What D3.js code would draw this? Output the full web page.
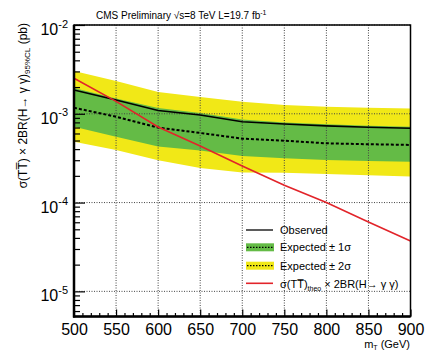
<!DOCTYPE html>
<html>
<head>
<meta charset="utf-8">
<script src="https://cdn.jsdelivr.net/npm/d3@7"></script>
<style>
  body { margin: 0; background: #fff; }
  svg { display: block; font-family: "Liberation Sans", Arial, Helvetica, sans-serif; }
</style>
</head>
<body>
<div id="main"></div>
<script>
// mass points (GeV)
const masses = [500, 550, 600, 650, 700, 750, 800, 850, 900];
// 95% CL limits (pb)
const observed = [1.85e-3, 1.43e-3, 1.09e-3, 9.7e-4, 8.15e-4, 7.67e-4, 7.3e-4, 7.05e-4, 6.87e-4];
const expected = [1.17e-3, 9.27e-4, 7.0e-4, 6.08e-4, 5.25e-4, 4.98e-4, 4.65e-4, 4.54e-4, 4.46e-4];
const plus1 = [1.95e-3, 1.49e-3, 1.16e-3, 1.02e-3, 8.6e-4, 8.0e-4, 7.6e-4, 7.35e-4, 7.15e-4];
const minus1 = [7.16e-4, 5.52e-4, 4.28e-4, 3.86e-4, 3.35e-4, 3.15e-4, 3.02e-4, 2.94e-4, 2.89e-4];
const plus2 = [3.03e-3, 2.34e-3, 1.76e-3, 1.55e-3, 1.37e-3, 1.26e-3, 1.2e-3, 1.17e-3, 1.15e-3];
const minus2 = [4.85e-4, 3.9e-4, 2.99e-4, 2.45e-4, 2.18e-4, 2.17e-4, 2.1e-4, 2.03e-4, 1.96e-4];
const theory = [2.51e-3, 1.38e-3, 7.1e-4, 4.33e-4, 2.58e-4, 1.57e-4, 1.0e-4, 6.05e-5, 3.7e-5];

const xMajor = [500, 550, 600, 650, 700, 750, 800, 850, 900];
const yDecades = [1e-5, 1e-4, 1e-3, 1e-2];
const yExponents = ["-5", "-4", "-3", "-2"];

const width = 426, height = 351;
const plotLeft = 74, plotRight = 410.5, plotTop = 25, plotBottom = 316.5;

const green = "#64bb46";
const yellow = "#f1e817";
const red = "#e2242a";

const svg = d3.select("#main").append("svg")
    .attr("width", width)
    .attr("height", height);

svg.append("rect").attr("width", width).attr("height", height).attr("fill", "#fff");

const x = d3.scaleLinear().domain([500, 900]).range([plotLeft, plotRight]);
const y = d3.scaleLog().domain([5.21e-6, 1e-2]).range([plotBottom, plotTop]);

const rows = masses.map((m, i) => ({
    m: m, obs: observed[i], exp: expected[i],
    p1: plus1[i], m1: minus1[i], p2: plus2[i], m2: minus2[i], th: theory[i]
}));

const band = (lo, hi) => d3.area()
    .x(d => x(d.m))
    .y0(d => y(d[lo]))
    .y1(d => y(d[hi]));

svg.append("path").datum(rows).attr("d", band("m2", "p2")).attr("fill", yellow);
svg.append("path").datum(rows).attr("d", band("m1", "p1")).attr("fill", green);

// grid
const grid = svg.append("g")
    .attr("stroke", "#444")
    .attr("stroke-width", 1)
    .attr("stroke-dasharray", "1,1.5");
grid.selectAll("line.vx")
    .data(xMajor.slice(1, -1))
    .enter().append("line")
    .attr("x1", d => x(d)).attr("x2", d => x(d))
    .attr("y1", plotTop).attr("y2", plotBottom);
grid.selectAll("line.hy")
    .data(yDecades)
    .enter().append("line")
    .attr("x1", plotLeft).attr("x2", plotRight)
    .attr("y1", d => y(d)).attr("y2", d => y(d));

const lineOf = key => d3.line().x(d => x(d.m)).y(d => y(d[key]));

svg.append("path").datum(rows).attr("d", lineOf("exp"))
    .attr("fill", "none").attr("stroke", "#000")
    .attr("stroke-width", 2).attr("stroke-dasharray", "3,2");
svg.append("path").datum(rows).attr("d", lineOf("obs"))
    .attr("fill", "none").attr("stroke", "#000").attr("stroke-width", 1.6);
svg.append("path").datum(rows).attr("d", lineOf("th"))
    .attr("fill", "none").attr("stroke", red).attr("stroke-width", 1.6);

// axes
const yMinor = [];
for (let e = -6; e <= -3; e++) {
    for (let k = 2; k <= 9; k++) {
        const v = k * Math.pow(10, e);
        if (v >= 5.21e-6 && v <= 1e-2) yMinor.push(v);
    }
}
const xMinor = d3.range(500, 901, 10).filter(v => v % 50 !== 0);

svg.append("g")
    .attr("transform", `translate(${plotLeft},0)`)
    .call(d3.axisLeft(y).tickValues(yMinor).tickSize(-6).tickFormat(""))
    .call(g => g.select(".domain").remove());

const yAxis = svg.append("g")
    .attr("transform", `translate(${plotLeft},0)`)
    .call(d3.axisLeft(y).tickValues(yDecades).tickSize(-11).tickPadding(6).tickFormat(""))
    .call(g => g.select(".domain").remove());
yAxis.selectAll(".tick text")
    .attr("dy", null)
    .attr("y", 9.5)
    .attr("fill", "#000")
    .style("font-size", "16px")
    .each(function(d, i) {
        const t = d3.select(this);
        t.append("tspan").text("10");
        t.append("tspan").attr("dy", -7.5).style("font-size", "11px").text(yExponents[i]);
    });

svg.append("g")
    .attr("transform", `translate(0,${plotBottom})`)
    .call(d3.axisBottom(x).tickValues(xMinor).tickSize(-3.5).tickFormat(""))
    .call(g => g.select(".domain").remove());

svg.append("g")
    .attr("transform", `translate(0,${plotBottom})`)
    .call(d3.axisBottom(x).tickValues(xMajor).tickSize(-7).tickFormat(d3.format("d")))
    .call(g => g.select(".domain").remove())
    .call(g => g.selectAll(".tick text")
        .attr("dy", null).attr("y", 18.5)
        .attr("fill", "#000")
        .style("font-size", "16px"));

svg.selectAll(".tick line").attr("stroke", "#000").attr("stroke-width", 1.2);

// frame
svg.append("rect")
    .attr("x", plotLeft).attr("y", plotTop)
    .attr("width", plotRight - plotLeft).attr("height", plotBottom - plotTop)
    .attr("fill", "none").attr("stroke", "#000").attr("stroke-width", 1.5);
svg.append("line").attr("x1", plotLeft).attr("x2", plotLeft).attr("y1", plotTop).attr("y2", plotBottom + 1)
    .attr("stroke", "#000").attr("stroke-width", 2.5);
svg.append("line").attr("x1", plotLeft - 1).attr("x2", plotRight).attr("y1", plotBottom).attr("y2", plotBottom)
    .attr("stroke", "#000").attr("stroke-width", 2.5);

// titles
const title = svg.append("text")
    .attr("x", 96).attr("y", 19)
    .style("font-size", "10px");
title.append("tspan").text("CMS Preliminary \u221As=8 TeV L=19.7 fb");
title.append("tspan").attr("dy", -4).style("font-size", "7px").text("-1");

const xTitle = svg.append("text")
    .attr("x", 410).attr("y", 348)
    .attr("text-anchor", "end")
    .style("font-size", "11px");
xTitle.append("tspan").text("m");
xTitle.append("tspan").attr("dy", 2).style("font-size", "7px").text("T");
xTitle.append("tspan").attr("dy", -2).text(" (GeV)");

const yTitle = svg.append("text")
    .attr("transform", "translate(27,23) rotate(-90)")
    .attr("text-anchor", "end")
    .style("font-size", "12px");
yTitle.append("tspan").text("\u03C3(TT\u0305) \u00D7 2BR(H\u2192 \u03B3 \u03B3)");
yTitle.append("tspan").attr("dy", 3).style("font-size", "8px").text("95%CL");
yTitle.append("tspan").attr("dy", -3).text(" (pb)");

// legend
const legend = svg.append("g").style("font-size", "11px");
legend.append("line")
    .attr("x1", 246).attr("x2", 273).attr("y1", 230).attr("y2", 230)
    .attr("stroke", "#333").attr("stroke-width", 1.6);
legend.append("text").attr("x", 280).attr("y", 234).text("Observed");

[[green, 243.3, "Expected \u00B1 1\u03C3"], [yellow, 261.7, "Expected \u00B1 2\u03C3"]].forEach(e => {
    legend.append("rect")
        .attr("x", 246).attr("y", e[1]).attr("width", 28).attr("height", 8)
        .attr("fill", e[0]);
    legend.append("line")
        .attr("x1", 247).attr("x2", 273).attr("y1", e[1] + 4).attr("y2", e[1] + 4)
        .attr("stroke", "#000").attr("stroke-width", 1.2).attr("stroke-dasharray", "1.5,1.5");
    legend.append("text").attr("x", 280).attr("y", e[1] + 8).text(e[2]);
});

legend.append("line")
    .attr("x1", 246).attr("x2", 273).attr("y1", 283.3).attr("y2", 283.3)
    .attr("stroke", red).attr("stroke-width", 1.6);
const thText = legend.append("text").attr("x", 280).attr("y", 287.5);
thText.append("tspan").text("\u03C3(TT\u0305)");
thText.append("tspan").attr("dy", 3).style("font-size", "7px").text("theo");
thText.append("tspan").attr("dy", -3).text(" \u00D7 2BR(H\u2192 \u03B3 \u03B3)");
</script>
</body>
</html>
